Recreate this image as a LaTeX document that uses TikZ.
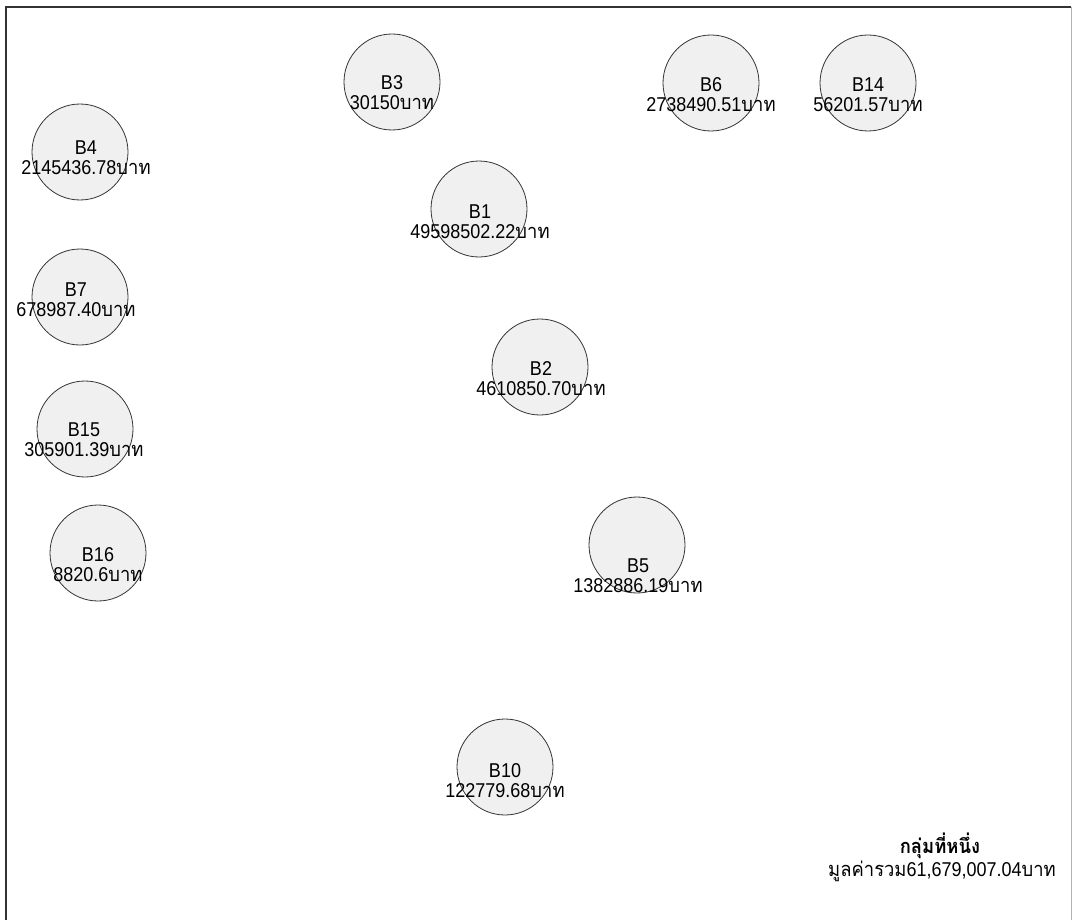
\documentclass[tikz,border=0pt]{standalone}
\usepackage{fontspec}
\setmainfont[FakeStretch=0.9]{Liberation Sans}
\newfontfamily\thaifont[Script=Thai,FakeStretch=0.92]{Loma}
\newcommand{\baht}{{\thaifont บาท}}
\usetikzlibrary{positioning}

\begin{document}
\begin{tikzpicture}[
  x=0.75pt, y=-0.75pt,
  bcirc/.style={circle, draw=black!80, fill=black!6, line width=0.6pt,
                minimum size=72pt, inner sep=0pt},
  blab/.style={align=center, inner sep=0pt,
               font=\fontsize{15}{15}\selectfont},
  sumlab/.style={inner sep=0pt, font=\fontsize{15}{16}\selectfont},
]
\useasboundingbox (0,0) rectangle (1073,920);
% frame
\draw[line width=1.2pt, black!80] (6,920) -- (6,7) -- (1071,7);
\draw[line width=0.5pt, black!30] (1071,7) -- (1071,920);

% bubbles
\node[bcirc] (b3) at (392,82) {};
\node[blab] (b3t) at (392,93) {B3\\30150\baht};
\node[bcirc] (b6) at (711,83) {};
\node[blab] (b6t) at (711,95) {B6\\2738490.51\baht};
\node[bcirc] (b14) at (868,83) {};
\node[blab] (b14t) at (868,95) {B14\\56201.57\baht};
\node[bcirc] (b4) at (80,152) {};
\node[blab] (b4t) at (86,158) {B4\\2145436.78\baht};
\node[bcirc] (b1) at (479,209) {};
\node[blab] (b1t) at (480,222) {B1\\49598502.22\baht};
\node[bcirc] (b7) at (80,297) {};
\node[blab] (b7t) at (76,300) {B7\\678987.40\baht};
\node[bcirc] (b2) at (540,367) {};
\node[blab] (b2t) at (541,379) {B2\\4610850.70\baht};
\node[bcirc] (b15) at (85,429) {};
\node[blab] (b15t) at (84,440) {B15\\305901.39\baht};
\node[bcirc] (b16) at (98,553) {};
\node[blab] (b16t) at (98,565) {B16\\8820.6\baht};
\node[bcirc] (b5) at (637,545) {};
\node[blab] (b5t) at (638,576) {B5\\1382886.19\baht};
\node[bcirc] (b10) at (505,767) {};
\node[blab] (b10t) at (505,781) {B10\\122779.68\baht};

% group total
\node[sumlab] (grp) at (940,846) {\thaifont\bfseries กลุ่มที่หนึ่ง};
\node[sumlab] (tot) at (942,871) {{\thaifont มูลค่ารวม}61,679,007.04\baht};
\end{tikzpicture}
\end{document}
